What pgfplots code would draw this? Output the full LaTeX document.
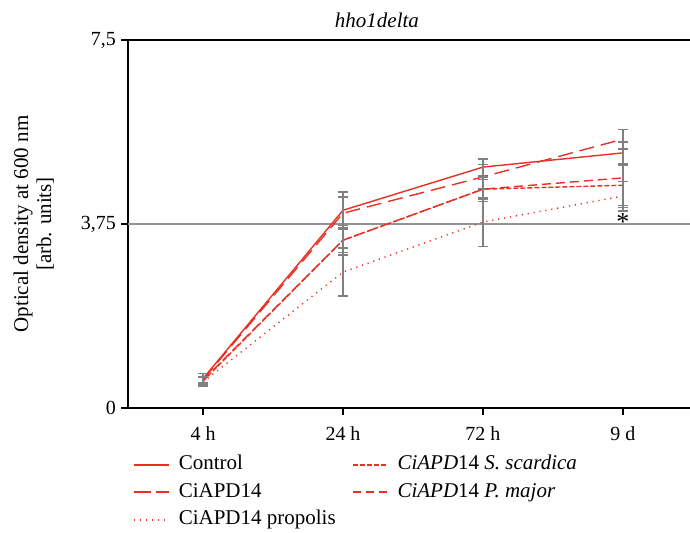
\documentclass[border=0pt]{standalone}
\usepackage{fontspec}
\setmainfont{Liberation Serif}
\usepackage{pgfplots}
\pgfplotsset{compat=1.18}
\definecolor{lred}{RGB}{232,48,36}
\definecolor{egray}{RGB}{128,128,128}
\begin{document}
\begin{tikzpicture}
\path[use as bounding box] (0,0) rectangle (345pt,266pt);
\begin{axis}[
  at={(64pt,62pt)}, anchor=south west,
  scale only axis, width=281pt, height=184pt,
  xmin=-0.536, xmax=3.479, ymin=0, ymax=7.5,
  axis x line*=box, axis y line*=left,
  xtick={0,1,2,3}, xticklabels={4 h,24 h,72 h,9 d},
  ytick={0,3.75,7.5}, yticklabels={0,{3,75},{7,5}},
  xtick pos=bottom, ytick pos=left,
  tick align=outside, major tick length=3.5pt,
  tick style={black, line width=0.6pt},
  axis line style={black, line width=0.6pt},
  /pgf/number format/assume math mode=true,
  ticklabel style={font=\fontsize{10}{12}\selectfont},
  yticklabel style={xshift=1pt},
  xticklabel style={yshift=-2.5pt},
  title={\textit{hho1delta}},
  title style={font=\fontsize{10.5}{12}\selectfont, at={(axis description cs:0.443,1)}, anchor=base, yshift=0.5pt},
  ylabel={Optical density at 600 nm\\{[}arb. units{]}},
  ylabel style={font=\fontsize{10.5}{11.5}\selectfont, align=center, at={(axis description cs:-0.119,0.5)}, anchor=south},
  legend columns=2,
  legend cell align=left,
  legend style={draw=none, fill=none, inner sep=0pt, outer sep=0pt,
    font=\fontsize{10.5}{12}\selectfont,
    at={(axis description cs:0.0089,-0.127)}, anchor=north west,
    nodes={inner ysep=0pt, inner xsep=0pt, text height=7.6pt, text depth=2.3pt},
    row sep=3.85pt,
    /tikz/every odd column/.append style={column sep=4.5pt},
    /tikz/every even column/.append style={column sep=8pt}},
  error bars/y dir=both, error bars/y explicit,
  error bars/error bar style={egray, line width=1pt, solid},
  error bars/error mark options={rotate=90, egray, mark size=2.6pt, line width=0.8pt, solid},
  clip=false,
]
\draw[egray!85, line width=1pt] (rel axis cs:0,0.5) -- (rel axis cs:1,0.5);
% Control
\addplot[lred, line width=0.7pt, solid, forget plot] coordinates {
 (0,0.60) +- (0,0.10)
 (1,4.03) +- (0,0.37)
 (2,4.91) +- (0,0.17)
 (3,5.20) +- (0,0.22)
};
% S. scardica
\addplot[lred, line width=0.7pt, dash pattern=on 2.5pt off 1pt, forget plot] coordinates {
 (0,0.55) +- (0,0.08)
 (1,3.42) +- (0,0.25)
 (2,4.46) +- (0,0.20)
 (3,4.54) +- (0,0.41)
};
% CiAPD14
\addplot[lred, line width=0.7pt, dash pattern=on 7.5pt off 3.5pt, forget plot] coordinates {
 (0,0.58) +- (0,0.12)
 (1,3.97) +- (0,0.33)
 (2,4.71) +- (0,0.25)
 (3,5.48) +- (0,0.20)
};
% P. major
\addplot[lred, line width=0.7pt, dash pattern=on 4.5pt off 2.5pt, forget plot] coordinates {
 (0,0.57) +- (0,0.06)
 (1,3.42) +- (0,0.30)
 (2,4.46) +- (0,0.25)
 (3,4.69) +- (0,0.60)
};
% propolis
\addplot[lred, line width=0.7pt, dash pattern=on 0.6pt off 2.4pt, forget plot] coordinates {
 (0,0.53) +- (0,0.09)
 (1,2.77) +- (0,0.49)
 (2,3.79) +- (0,0.50)
 (3,4.32) +- (0,0.30)
};
\addlegendimage{legend image code/.code={\draw[draw=lred, line width=0.9pt, solid] (0pt,0pt) -- (17.5pt,0pt);}}
\addlegendentry{Control}
\addlegendimage{legend image code/.code={\draw[draw=lred, line width=0.9pt, dash pattern=on 2.5pt off 1pt] (0pt,0pt) -- (17.5pt,0pt);}}
\addlegendentry{\textit{CiAPD}14 \textit{S. scardica}}
\addlegendimage{legend image code/.code={\draw[draw=lred, line width=0.9pt, dash pattern=on 8.5pt off 2.5pt] (0pt,0pt) -- (17.5pt,0pt);}}
\addlegendentry{CiAPD14}
\addlegendimage{legend image code/.code={\draw[draw=lred, line width=0.9pt, dash pattern=on 4pt off 2.5pt] (0pt,0pt) -- (17.5pt,0pt);}}
\addlegendentry{\textit{CiAPD}14 \textit{P. major}}
\addlegendimage{legend image code/.code={\draw[draw=lred, line width=0.9pt, dash pattern=on 0.6pt off 2.4pt] (0pt,0pt) -- (17.5pt,0pt);}}
\addlegendentry{CiAPD14 propolis}
\node[font=\fontsize{13}{14}\selectfont, inner sep=0pt] at (axis cs:3,3.80) {*};
\end{axis}
\end{tikzpicture}
\end{document}
